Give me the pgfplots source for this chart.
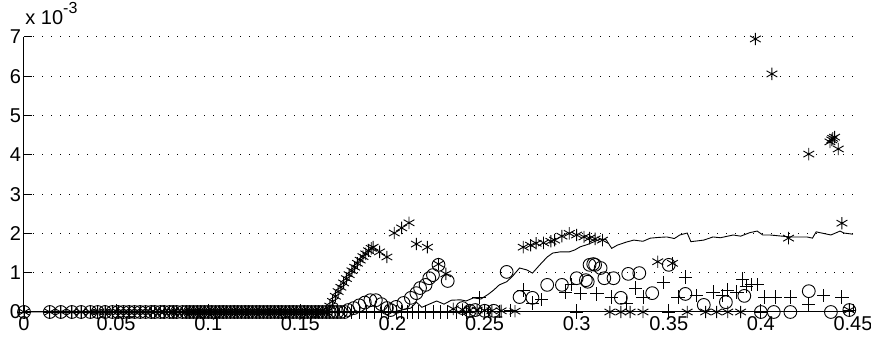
\documentclass[border=0pt]{standalone}
\usepackage{fontspec}
\setmainfont{Liberation Sans}
\usepackage{pgfplots}
\usepackage{pgfplotstable}
\pgfplotsset{compat=1.18}

% bottom cluster shared by the three marker series (x, y in units of 1e-3)
\pgfplotstableread{
x y
0 0
0.014 0
0.020 0
0.026 0
0.031 0
0.036 0
0.040 0
0.044 0
0.048 0
0.051 0
0.054 0
0.057 0
0.060 0
0.063 0
0.066 0
0.069 0
0.071 0
0.074 0
0.076 0
0.079 0
0.081 0
0.083 0
0.086 0
0.088 0
0.090 0
0.092 0
0.094 0
0.096 0
0.098 0
0.100 0
0.102 0
0.104 0
0.106 0
0.108 0
0.110 0
0.112 0
0.114 0
0.116 0
0.118 0
0.120 0
0.122 0
0.124 0
0.126 0
0.128 0
0.130 0
0.132 0
0.134 0
0.136 0
0.138 0
0.140 0
0.142 0
0.144 0
0.146 0
0.148 0
0.150 0
0.152 0
0.154 0
0.156 0
0.158 0
0.160 0
0.162 0
0.164 0
}\basedata

\pgfplotstableread{
x y
0 0
0.200 0
0.205 0.05
0.210 0.10
0.213 0.25
0.216 0.12
0.220 0.20
0.224 0.28
0.228 0.20
0.232 0.30
0.237 0.31
0.240 0.28
0.244 0.36
0.248 0.33
0.252 0.45
0.255 0.56
0.258 0.69
0.262 0.77
0.265 0.90
0.269 1.12
0.273 1.07
0.276 0.99
0.280 1.20
0.284 1.40
0.287 1.50
0.291 1.53
0.296 1.53
0.299 1.58
0.302 1.66
0.306 1.72
0.309 1.78
0.313 1.86
0.316 1.84
0.319 1.62
0.322 1.70
0.327 1.78
0.331 1.83
0.336 1.80
0.340 1.88
0.345 1.90
0.349 1.91
0.353 1.87
0.356 1.96
0.360 2.01
0.362 1.79
0.369 1.83
0.374 1.91
0.378 1.89
0.385 1.96
0.389 1.93
0.394 2.02
0.398 2.06
0.401 1.96
0.405 1.96
0.416 1.91
0.425 1.91
0.428 1.88
0.430 2.04
0.438 1.96
0.443 2.06
0.445 2.01
0.450 1.98
}\linedata

\pgfplotstableread{
x y
0.166 0.15
0.1675 0.27
0.169 0.40
0.1705 0.52
0.172 0.63
0.1735 0.74
0.175 0.85
0.1765 0.95
0.178 1.05
0.1795 1.14
0.181 1.24
0.1825 1.32
0.184 1.41
0.1855 1.48
0.187 1.56
0.1885 1.62
0.1895 1.65
0.193 1.53
0.197 1.40
0.201 2.01
0.205 2.14
0.209 2.27
0.213 1.73
0.219 1.65
0.225 1.22
0.229 0.97
0.233 0.08
0.238 0.06
0.242 0.05
0.246 0.05
0.250 0.04
0.254 0.03
0.259 0.03
0.2665 0.02
0.271 1.65
0.275 1.70
0.278 1.75
0.282 1.76
0.286 1.80
0.288 1.83
0.292 1.93
0.296 2.00
0.300 1.96
0.304 1.91
0.307 1.88
0.310 1.86
0.314 1.83
0.318 0
0.324 0
0.329 0
0.336 0
0.344 1.28
0.352 1.24
0.360 0
0.370 0
0.376 0
0.382 0
0.389 0
0.397 6.95
0.406 6.06
0.415 1.88
0.426 4.02
0.4375 4.33
0.4385 4.38
0.439 4.42
0.440 4.45
0.442 4.15
0.444 2.26
0.448 0.05
}\stardata

\pgfplotstableread{
x y
0.166 0
0.168 0
0.170 0
0.172 0
0.174 0
0.176 0.05
0.179 0.10
0.182 0.17
0.185 0.24
0.188 0.30
0.191 0.30
0.194 0.20
0.197 0.10
0.199 0.05
0.202 0.13
0.206 0.23
0.210 0.36
0.213 0.48
0.215 0.61
0.218 0.69
0.220 0.86
0.222 0.94
0.225 1.20
0.230 0.79
0.238 0.10
0.242 0.03
0.245 0.05
0.250 0.03
0.255 0.03
0.262 1.02
0.269 0.38
0.276 0.36
0.284 0.69
0.292 0.69
0.300 0.86
0.305 0.81
0.306 0.77
0.307 1.20
0.309 1.22
0.310 1.20
0.313 1.12
0.315 0.86
0.320 0.86
0.324 0.36
0.328 0.97
0.334 0.99
0.341 0.48
0.350 1.20
0.359 0.46
0.369 0.18
0.381 0.25
0.391 0.41
0.400 0
0.407 0
0.416 0
0.426 0.53
0.438 0
0.448 0.05
}\circdata

\pgfplotstableread{
x y
0.166 0
0.170 0
0.174 0
0.178 0
0.182 0
0.186 0
0.190 0
0.194 0
0.198 0
0.202 0
0.205 0
0.208 0
0.211 0
0.214 0
0.218 0
0.222 0
0.226 0
0.230 0
0.235 0
0.240 0
0.247 0.36
0.252 0.02
0.258 0.02
0.264 0.03
0.271 0.56
0.276 0.23
0.281 0.31
0.294 0.51
0.297 0.69
0.300 0
0.302 0.48
0.311 0.46
0.319 0.38
0.327 0.23
0.332 0.61
0.336 0.38
0.347 0.76
0.350 0
0.355 0.38
0.359 0.89
0.365 0.41
0.374 0.51
0.379 0.41
0.382 0.56
0.387 0.51
0.390 0.84
0.392 0.64
0.395 0.69
0.398 0.69
0.400 0
0.402 0.38
0.408 0.38
0.416 0.38
0.426 0.20
0.434 0.41
0.444 0.38
0.448 0.05
}\plusdata

\begin{document}
\begin{tikzpicture}
\begin{axis}[
  name=a,
  scale only axis,
  width=414.5pt, height=137.5pt,
  xmin=0, xmax=0.45, ymin=0, ymax=7,
  axis x line*=bottom, axis y line*=left,
  axis line style={-, black, line width=0.5pt},
  tick align=inside,
  major tick length=4pt,
  tick style={black, line width=0.5pt},
  xtick={0,0.05,0.1,0.15,0.2,0.25,0.3,0.35,0.4,0.45},
  xticklabels={0,0.05,0.1,0.15,0.2,0.25,0.3,0.35,0.4,0.45},
  ytick={0,1,2,3,4,5,6,7},
  yticklabels={0,1,2,3,4,5,6,7},
  ticklabel style={font=\fontsize{10}{12}\selectfont},
  xticklabel style={yshift=1.5pt},
  yticklabel style={xshift=2pt},
  ymajorgrids,
  major grid style={black, line width=0.5pt, dash pattern=on 0.5pt off 4pt},
  clip=false,
]
\addplot[black, line width=0.45pt, mark=none] table {\linedata};
\addplot[only marks, mark=o, mark size=3.2pt, mark options={black, line width=0.45pt}] table {\basedata};
\addplot[only marks, mark=o, mark size=3.2pt, mark options={black, line width=0.45pt}] table {\circdata};
\addplot[only marks, mark=+, mark size=3.3pt, mark options={black, line width=0.45pt}] table {\basedata};
\addplot[only marks, mark=+, mark size=3.3pt, mark options={black, line width=0.45pt}] table {\plusdata};
\addplot[only marks, mark=asterisk, mark size=3.1pt, mark options={black, line width=0.45pt}] table {\basedata};
\addplot[only marks, mark=asterisk, mark size=3.1pt, mark options={black, line width=0.45pt}] table {\stardata};
\node[anchor=base west, font=\fontsize{10}{12}\selectfont, inner sep=0pt] at ([xshift=0.5pt, yshift=6pt]rel axis cs:0,1) {x 10\raisebox{1.1ex}{\fontsize{8}{9}\selectfont -3}};
\end{axis}
\pgfresetboundingbox
\path ([xshift=-12pt, yshift=-14pt]a.south west) rectangle ([xshift=9pt, yshift=18.5pt]a.north east);
\end{tikzpicture}
\end{document}
